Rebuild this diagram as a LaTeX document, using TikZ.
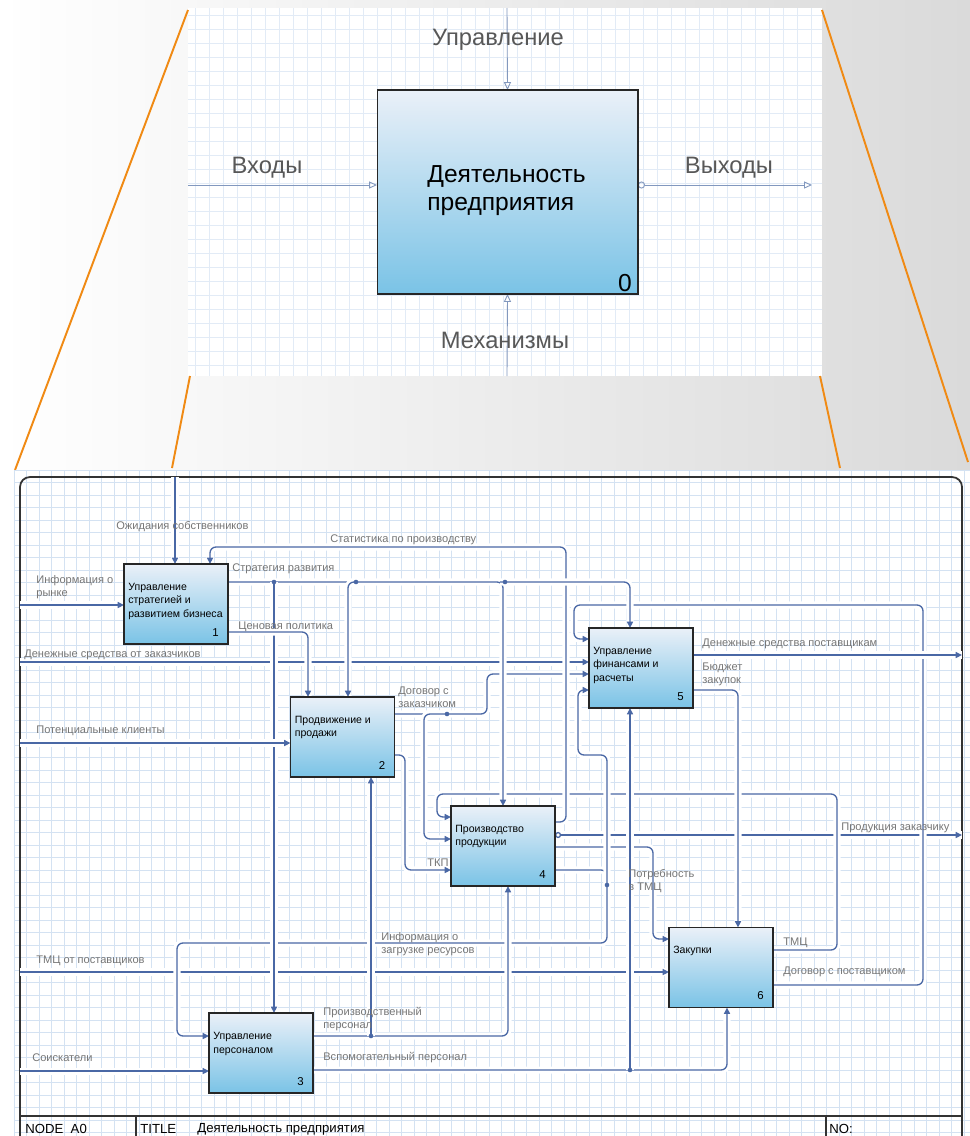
\documentclass[tikz,border=0pt]{standalone}
\usepackage{fontspec}
\setmainfont{Liberation Sans}
\usepackage{tikz}
\usetikzlibrary{arrows.meta, calc}
\definecolor{wire}{RGB}{74, 104, 165}
\definecolor{wirelight}{RGB}{130, 152, 190}
\definecolor{gridblue}{RGB}{212, 226, 242}
\definecolor{gridpale}{RGB}{226, 235, 246}
\definecolor{boxtop}{RGB}{234, 240, 248}
\definecolor{boxbottom}{RGB}{122, 195, 230}
\definecolor{labelgray}{RGB}{118, 118, 118}
\definecolor{toplabel}{RGB}{88, 88, 88}
\definecolor{zoomline}{RGB}{240, 138, 20}
\definecolor{backgray}{RGB}{218, 218, 218}
\pgfdeclarelayer{paper}
\pgfdeclarelayer{wires}
\pgfsetlayers{paper,wires,main}

\tikzset{
  act/.style={draw=black!85, line width=0.9pt, top color=boxtop, bottom color=boxbottom,
    minimum width=2.08cm, minimum height=1.6cm, inner sep=0pt, outer sep=0pt},
  acttext/.style={anchor=north west, inner sep=0pt, align=left,
    font=\fontsize{6}{7.9}\selectfont, xshift=0.08cm, yshift=-0.37cm},
  actnum/.style={anchor=south east, inner sep=0pt, font=\fontsize{6.5}{7}\selectfont,
    xshift=-0.18cm, yshift=0.15cm},
  lbl/.style={anchor=west, inner sep=0pt, align=left, text=labelgray,
    font=\fontsize{6.3}{7.4}\selectfont},
  toplbl/.style={inner sep=0pt, text=toplabel, font=\fontsize{13.5}{16}\selectfont},
  foot/.style={anchor=west, inner sep=0pt, font=\fontsize{7.5}{9}\selectfont},
  flow/.style={draw=wire, line width=0.75pt, rounded corners=0.12cm,
    -{Triangle[length=3.6pt,width=3.4pt]},
    preaction={draw=white, line width=4pt, arrows=-}},
  flowout/.style={flow, arrows={Circle[open,length=3.5pt,width=3.5pt]}-{Triangle[length=3.6pt,width=3.4pt]}},
  ctx/.style={draw=wirelight, line width=0.5pt, -{Triangle[open,length=4.5pt,width=4pt]}},
  ctxout/.style={ctx, arrows={Circle[open,length=4pt,width=4pt]}-{Triangle[open,length=4.5pt,width=4pt]}},
  frame/.style={draw=black!80, line width=1pt},
  zoom/.style={draw=zoomline, line width=1.1pt}
}

\begin{document}
\begin{tikzpicture}[x=0.02cm, y=-0.02cm]

  \useasboundingbox (0,0) rectangle (970,1136);

  \begin{pgfonlayer}{paper}
    \fill[left color=white, right color=backgray] (0,0) rectangle (970,1136);

    % context sheet
    \fill[white] (188,8) rectangle (822,376);
    \foreach \gx in {195,209,...,822}
      \draw[gridpale, line width=0.3pt] (\gx,8) -- (\gx,376);
    \foreach \gy in {15,29,...,376}
      \draw[gridpale, line width=0.3pt] (188,\gy) -- (822,\gy);

    \draw[zoom] (188,10) -- (15,470);
    \draw[zoom] (822,10) -- (968,462);
    \draw[zoom] (190,376) -- (172,468);
    \draw[zoom] (820,376) -- (840,468);

    % decomposition sheet
    \fill[white] (14,470) rectangle (970,1136);
    \foreach \gx in {14,26.5,...,970}
      \draw[gridblue, line width=0.3pt] (\gx,470) -- (\gx,1136);
    \foreach \gy in {470,482.5,...,1136}
      \draw[gridblue, line width=0.3pt] (14,\gy) -- (970,\gy);

    \draw[frame, rounded corners=0.2cm] (20,1140) -- (20,477) -- (962,477) -- (962,1140);
    \draw[frame] (20,1116) -- (962,1116);
    \draw[frame] (136,1116) -- (136,1136);
    \draw[frame] (826,1116) -- (826,1136);
  \end{pgfonlayer}

  \node[foot] (fNode) at (25,1129) {NODE\ \ A0};
  \node[foot] (fTitle) at (140,1129) {TITLE};
  \node[foot] (fName) at (197,1129) {Деятельность предприятия};
  \node[foot] (fNo) at (829,1129) {NO:};

  % context activity
  \node[act, line width=0.6pt, minimum width=5.22cm, minimum height=4.08cm] (b0) at (507.5,192) {};
  \node[anchor=west, inner sep=0pt, align=left, font=\fontsize{14}{16.4}\selectfont] (t0) at (427,190.5) {Деятельность\\предприятия};
  \node[inner sep=0pt, font=\fontsize{14}{16}\selectfont] (n0) at (625,283) {0};

  \coordinate (cTop) at (507,8);
  \coordinate (cBot) at (507,376);
  \coordinate (cIn) at (188,185);
  \coordinate (cOut) at (812,185);

  \node[toplbl] (lUpr) at (498,40) {Управление};
  \node[toplbl] (lMeh) at (505,340) {Механизмы};
  \node[toplbl] (lVh) at (267,168) {Входы};
  \node[toplbl] (lVyh) at (729,168) {Выходы};

  % activities
  \node[act] (b1) at (176,604) {};
  \node[act] (b2) at (342.5,737) {};
  \node[act] (b3) at (261,1053) {};
  \node[act] (b4) at (503,846) {};
  \node[act] (b5) at (641,668) {};
  \node[act] (b6) at (721,967.5) {};

  \node[acttext] (t1) at (b1.north west) {Управление\\стратегией и\\развитием бизнеса};
  \node[acttext] (t2) at (b2.north west) {Продвижение и\\продажи};
  \node[acttext] (t3) at (b3.north west) {Управление\\персоналом};
  \node[acttext] (t4) at (b4.north west) {Производство\\продукции};
  \node[acttext] (t5) at (b5.north west) {Управление\\финансами и\\расчеты};
  \node[acttext] (t6) at (b6.north west) {Закупки};

  \node[actnum] (n1) at (b1.south east) {1};
  \node[actnum] (n2) at (b2.south east) {2};
  \node[actnum] (n3) at (b3.south east) {3};
  \node[actnum] (n4) at (b4.south east) {4};
  \node[actnum] (n5) at (b5.south east) {5};
  \node[actnum] (n6) at (b6.south east) {6};

  \coordinate (fOzh) at (175,477);
  \coordinate (fRynok) at (20,605);
  \coordinate (fDenZak) at (20,662);
  \coordinate (fKlient) at (20,743);
  \coordinate (fTmcPost) at (20,972);
  \coordinate (fSoisk) at (20,1071);
  \coordinate (fDenPost) at (962,655);
  \coordinate (fProd) at (962,835);

  \begin{pgfonlayer}{wires}
    \draw[ctx] (cTop) -- (b0.north);
    \draw[ctx] (cBot) -- (b0.south);
    \draw[ctx] (cIn) -- (b0.west |- cIn);
    \draw[ctxout] (b0.east |- cOut) -- (cOut);

    \draw[flow] (fDenZak) -- (b5.west |- fDenZak);
    \draw[flow] (fTmcPost) -- (b6.west |- fTmcPost);
    \draw[flowout] (b4.east |- fProd) -- (fProd);
    \draw[flow] (b6.east |- 0,950) -- (837,950) -- (837,794) -- (437,794) -- (437,817) -- (b4.west |- 0,817);
    \draw[flow] (b4.east |- 0,847) -- (653,847) -- (653,939) -- (b6.west |- 0,939);
    \draw[flow] (b4.east |- 0,870) -- (607,870) -- (607,943) -- (177,943) -- (177,1036) -- (b3.west |- 0,1036);
    \draw[flow] (607,885) -- (607,755) -- (578,755) -- (578,690) -- (b5.west |- 0,690);
    \draw[flow] (b2.east |- 0,714) -- (487,714) -- (487,674) -- (b5.west |- 0,674);
    \draw[flow] (447,714) -- (424,714) -- (424,839) -- (b4.west |- 0,839);
    \draw[flow] (b2.east |- 0,755) -- (405,755) -- (405,870) -- (b4.west |- 0,870);
    \draw[flow] (b4.east |- 0,822) -- (566,822) -- (566,547) -- (210,547) -- (b1.north -| 210,0);
    \draw[flow] (b6.east |- 0,985) -- (923,985) -- (923,605) -- (574,605) -- (574,639) -- (b5.west |- 0,639);
    \draw[flow] (b5.east |- 0,690) -- (738,690) -- (b6.north -| 738,0);
    \draw[flow] (b3.east |- 0,1070) -- (727,1070) -- (b6.south -| 727,0);
    \draw[flow] (630,1070) -- (b5.south -| 630,0);
    \draw[flow] (b3.east |- 0,1036) -- (508,1036) -- (b4.south -| 508,0);
    \draw[flow] (371,1036) -- (b2.south -| 371,0);
    \draw[flow] (b1.east |- 0,582) -- (503,582) -- (b4.north -| 503,0);
    \draw[flow] (274,582) -- (b3.north -| 274,0);
    \draw[flow] (356,582) -- (348,582) -- (b2.north -| 348,0);
    \draw[flow] (500,582) -- (630,582) -- (b5.north -| 630,0);
    \draw[flow] (b1.east |- 0,632) -- (308,632) -- (b2.north -| 308,0);
    \draw[flow] (fRynok) -- (b1.west |- fRynok);
    \draw[flow] (fKlient) -- (b2.west |- fKlient);
    \draw[flow] (fSoisk) -- (b3.west |- fSoisk);
    \draw[flow] (fOzh) -- (b1.north -| fOzh);
    \draw[flow] (b5.east |- fDenPost) -- (fDenPost);

    \foreach \jx/\jy in {274/582, 356/582, 505/582, 447/714, 607/885, 371/1036, 630/1070}
      \fill[wire] (\jx,\jy) circle (1.3pt);
  \end{pgfonlayer}

  \node[lbl] (lOzh) at (116,527) {Ожидания собственников};
  \node[lbl] (lStat) at (330,540) {Статистика по производству};
  \node[lbl] (lStrat) at (232,569) {Стратегия развития};
  \node[lbl] (lRynok) at (36,587.5) {Информация о\\рынке};
  \node[lbl] (lCena) at (238,627) {Ценовая политика};
  \node[lbl] (lDenZak) at (24,655) {Денежные средства от заказчиков};
  \node[lbl] (lDogZak) at (398,697) {Договор с\\заказчиком};
  \node[lbl] (lKlient) at (36,731) {Потенциальные клиенты};
  \node[lbl] (lDenPost) at (702,644) {Денежные средства поставщикам};
  \node[lbl] (lBudget) at (702,674) {Бюджет\\закупок};
  \node[lbl] (lTkp) at (427,863) {ТКП};
  \node[lbl] (lProd) at (841,828) {Продукция заказчику};
  \node[lbl] (lPotr) at (628,881) {Потребность\\в ТМЦ};
  \node[lbl] (lZagr) at (381,944.5) {Информация о\\загрузке ресурсов};
  \node[lbl] (lTmcPost) at (36,961) {ТМЦ от поставщиков};
  \node[lbl] (lTmc) at (783,943) {ТМЦ};
  \node[lbl] (lDogPost) at (783,972) {Договор с поставщиком};
  \node[lbl] (lPers) at (323,1019) {Производственный\\персонал};
  \node[lbl] (lSoisk) at (32,1058) {Соискатели};
  \node[lbl] (lVspom) at (323,1058) {Вспомогательный персонал};

\end{tikzpicture}
\end{document}
